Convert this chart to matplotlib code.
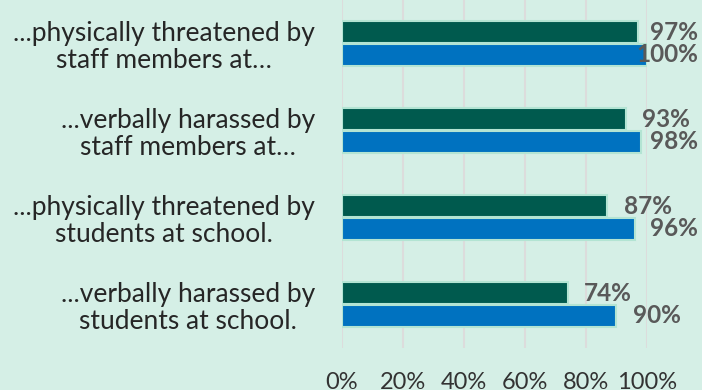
import matplotlib.pyplot as plt
import numpy as np

plt.rcParams['font.family'] = ['Lato', 'DejaVu Sans']

categories = ['...physically threatened by\nstaff members at…',
              '...verbally harassed by\nstaff members at…',
              '...physically threatened by\nstudents at school.',
              '...verbally harassed by\nstudents at school.']
green_vals = [97, 93, 87, 74]
blue_vals = [100, 98, 96, 90]
ticks = [0, 20, 40, 60, 80, 100]

bg = '#d5efe6'
fig = plt.figure(figsize=(7.02, 3.9), dpi=100, facecolor=bg)
ax = fig.add_axes([0.487, 0.1077, 0.4345, 0.8923], facecolor=bg)

y = np.arange(len(categories))
h = 0.25
off = 0.132
ax.barh(y - off, green_vals, height=h, color='#005a4e', edgecolor='#b3e4d3', linewidth=1.5, zorder=3)
ax.barh(y + off, blue_vals, height=h, color='#0072c0', edgecolor='#b3e4d3', linewidth=1.5, zorder=3)

ax.set_xlim(0, 100)
ax.set_ylim(len(categories) - 0.5, -0.5)
ax.set_xticks(ticks)
ax.set_xticklabels([f'{t}%' for t in ticks], fontsize=17, color='#333333')
ax.set_yticks(y)
ax.set_yticklabels(categories, fontsize=19, color='#262626',
                   multialignment='center', linespacing=1.1)
ax.tick_params(axis='both', length=0)
ax.tick_params(axis='x', pad=17)
ax.tick_params(axis='y', pad=19.5)
ax.grid(axis='x', color='#dcdcdc', linewidth=1.5, zorder=0)
for s in ax.spines.values():
    s.set_visible(False)

# value labels just past the bar end, nudged left if they would run off the figure
labels = []
for yy, vals in ((y - off, green_vals), (y + off, blue_vals)):
    for yi, v in zip(yy, vals):
        t = ax.text(v + 5.5, yi, f'{v}%', ha='left', va='center', fontsize=17.5,
                    fontweight='bold', color='#595959', clip_on=False, zorder=4)
        labels.append(t)

fig.canvas.draw()
r = fig.canvas.get_renderer()
right_px = 698
for t in labels:
    bb = t.get_window_extent(r)
    if bb.x1 > right_px:
        shift = bb.x1 - right_px
        x0, y0 = ax.transData.transform(t.get_position())
        t.set_position(ax.transData.inverted().transform((x0 - shift, y0)))

fig.savefig('out.png', dpi=100, facecolor=bg)
